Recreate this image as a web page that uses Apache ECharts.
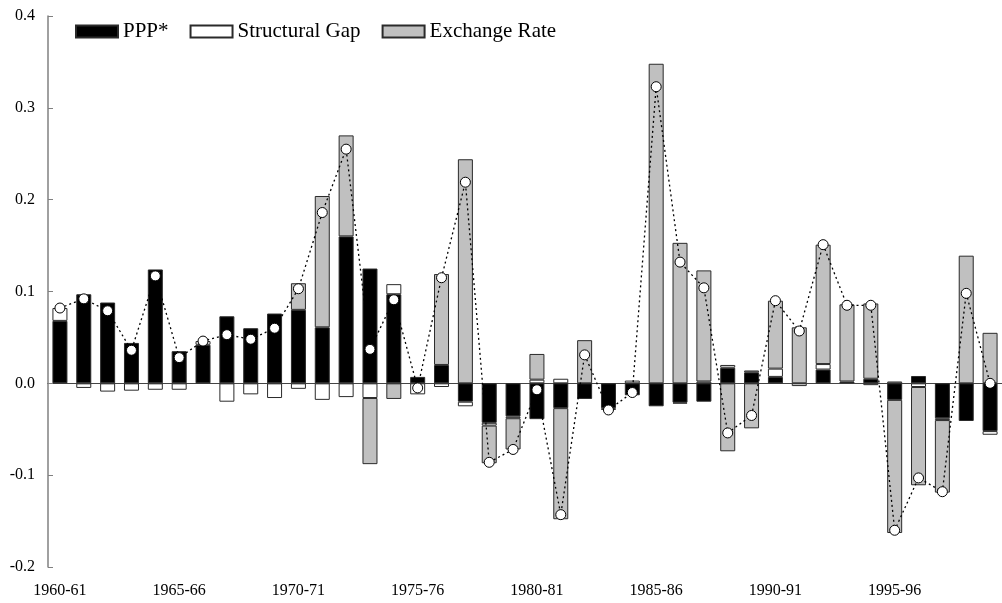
<!DOCTYPE html>
<html>
<head>
<meta charset="utf-8">
<script src="https://cdn.jsdelivr.net/npm/echarts@6/dist/echarts.min.js"></script>
<style>
  html, body { margin: 0; padding: 0; background: #fff; }
  #chart { width: 1002px; height: 603px; }
</style>
</head>
<body>
<div id="chart"></div>
<script>
var categories = [
  "1960-61", "1961-62", "1962-63", "1963-64", "1964-65", "1965-66", "1966-67", "1967-68", "1968-69", "1969-70",
  "1970-71", "1971-72", "1972-73", "1973-74", "1974-75", "1975-76", "1976-77", "1977-78", "1978-79", "1979-80",
  "1980-81", "1981-82", "1982-83", "1983-84", "1984-85", "1985-86", "1986-87", "1987-88", "1988-89", "1989-90",
  "1990-91", "1991-92", "1992-93", "1993-94", "1994-95", "1995-96", "1996-97", "1997-98", "1998-99", "1999-00"
];
// PPP* component
var ppp = [
  0.068, 0.097, 0.088, 0.044, 0.124, 0.035, 0.042, 0.073, 0.060, 0.076,
  0.080, 0.061, 0.160, 0.125, 0.097, 0.007, 0.020, -0.020, -0.043, -0.036,
  -0.039, -0.027, -0.017, -0.027, -0.013, -0.025, -0.021, -0.020, 0.017, 0.012,
  0.007, null, 0.015, 0.002, 0.005, -0.018, 0.008, -0.038, -0.041, -0.052
];
// structural gap
var structGap = [
  0.014, -0.005, -0.009, -0.008, -0.007, -0.007, 0.004, -0.020, -0.012, -0.016,
  -0.006, -0.018, -0.015, -0.016, 0.011, -0.012, -0.004, -0.005, -0.003, -0.002,
  0.004, 0.005, null, -0.002, 0.003, null, -0.001, 0.002, 0.003, 0.002,
  0.009, -0.003, 0.006, null, -0.002, 0.002, -0.004, -0.002, null, -0.004
];
// exchange rate
var exchRate = [
  null, null, null, null, null, null, null, null, null, null,
  0.029, 0.143, 0.110, -0.072, -0.017, null, 0.099, 0.244, -0.041, -0.034,
  0.028, -0.121, 0.047, null, null, 0.348, 0.153, 0.121, -0.074, -0.049,
  0.074, 0.061, 0.130, 0.084, 0.082, -0.145, -0.107, -0.079, 0.139, 0.055
];
// total (dots)
var total = [
  0.082, 0.092, 0.079, 0.036, 0.117, 0.028, 0.046, 0.053, 0.048, 0.060,
  0.103, 0.186, 0.255, 0.037, 0.091, -0.005, 0.115, 0.219, -0.086, -0.072,
  -0.007, -0.143, 0.031, -0.029, -0.010, 0.323, 0.132, 0.104, -0.054, -0.035,
  0.090, 0.057, 0.151, 0.085, 0.085, -0.160, -0.103, -0.118, 0.098, 0.000
];

var serif = "'Liberation Serif', 'DejaVu Serif', serif";

function barSeries(name, data, fill) {
  return {
    name: name,
    type: "bar",
    stack: "all",
    data: data,
    barWidth: 15,
    itemStyle: {
      color: fill,
      borderColor: "#2a2a2a",
      borderWidth: 1
    }
  };
}

var chart = echarts.init(document.getElementById("chart"));
var option = {
  animation: false,
  backgroundColor: "#fff",
  legend: {
    data: ["PPP*", "Structural Gap", "Exchange Rate"],
    left: 75,
    top: 21,
    padding: 0,
    icon: "rect",
    itemWidth: 42,
    itemHeight: 12,
    itemGap: 21,
    textStyle: { fontFamily: serif, fontSize: 21, color: "#000" }
  },
  grid: { left: 48, right: -11, top: 16, bottom: 36 },
  xAxis: [
    {
      type: "category",
      data: categories,
      position: "bottom",
      axisLine: { onZero: true, lineStyle: { color: "#444", width: 1 } },
      axisTick: { inside: true, length: 5, lineStyle: { color: "#444" } },
      axisLabel: { show: false }
    },
    {
      type: "category",
      data: categories,
      position: "bottom",
      axisLine: { show: false, onZero: false },
      axisTick: { show: false },
      axisLabel: {
        interval: 4,
        margin: 16,
        fontFamily: serif,
        fontSize: 16,
        color: "#000"
      }
    }
  ],
  yAxis: {
    type: "value",
    min: -0.2,
    max: 0.4,
    interval: 0.1,
    axisLine: { show: true, lineStyle: { color: "#808080", width: 1.5 } },
    axisTick: { show: true, inside: true, length: 5, lineStyle: { color: "#808080" } },
    splitLine: { show: false },
    axisLabel: {
      margin: 13,
      fontFamily: serif,
      fontSize: 16,
      color: "#000",
      formatter: function (v) { return v.toFixed(1); }
    }
  },
  series: [
    barSeries("PPP*", ppp, "#000"),
    barSeries("Structural Gap", structGap, "#fff"),
    barSeries("Exchange Rate", exchRate, "#c0c0c0"),
    {
      name: "Total",
      type: "line",
      data: total,
      z: 5,
      symbol: "circle",
      symbolSize: 10,
      lineStyle: { color: "#000", width: 1.3, type: [2, 3] },
      itemStyle: { color: "#fff", borderColor: "#000", borderWidth: 1 }
    }
  ]
};
chart.setOption(option);
</script>
</body>
</html>
